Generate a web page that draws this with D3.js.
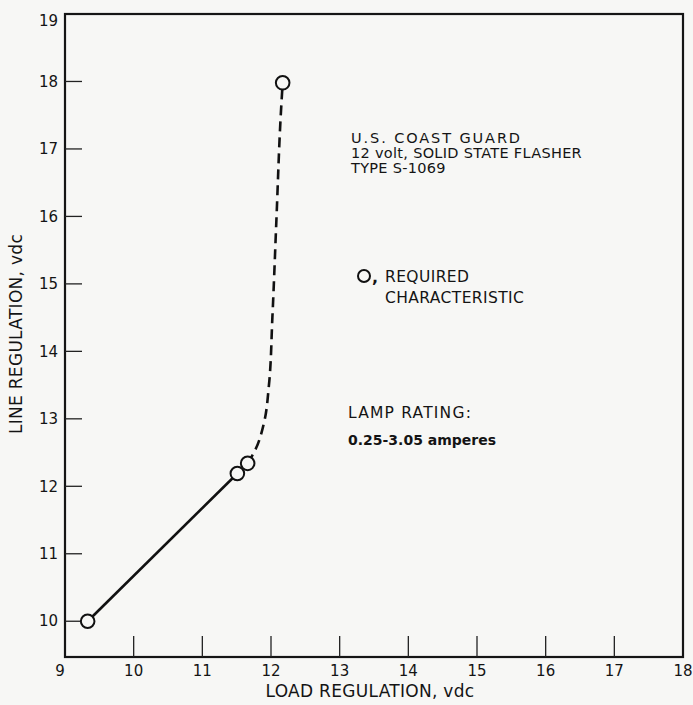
<!DOCTYPE html>
<html>
<head>
<meta charset="utf-8">
<script src="https://cdn.jsdelivr.net/npm/d3@7"></script>
<style>
  body { margin: 0; background: #f7f7f5; }
  svg text { font-family: "DejaVu Sans", sans-serif; fill: #141414; }
</style>
</head>
<body>
<script>
// tick values on both axes
var xTicks = [9, 10, 11, 12, 13, 14, 15, 16, 17, 18];
var yTicks = [10, 11, 12, 13, 14, 15, 16, 17, 18, 19];

// required characteristic points (load, line)
var required = [[9.33, 10.0], [11.51, 12.19], [11.66, 12.34], [12.17, 17.98]];

// solid part of the curve
var solidPart = [[9.33, 10.0], [11.51, 12.19]];

// dashed part of the curve
var dashedPart = [[11.66, 12.34], [11.78, 12.56], [11.9, 12.95], [11.97, 13.5],
                  [12.02, 14.5], [12.08, 15.98], [12.14, 17.46], [12.17, 17.98]];

var titleLines = ["U.S. COAST GUARD", "12 volt, SOLID STATE FLASHER", "TYPE S-1069"];
var legendLines = ["REQUIRED", "CHARACTERISTIC"];
var lampLabel = "LAMP RATING:";
var lampRange = "0.25-3.05 amperes";

var width = 693, height = 705;
var mLeft = 65, mRight = 683, mTop = 14, mBottom = 657;

var x = d3.scaleLinear().domain([9, 18]).range([mLeft, mRight]);
var y = d3.scaleLinear().domain([9.47, 19]).range([mBottom, mTop]);

var svg = d3.select("body").append("svg")
    .attr("width", width)
    .attr("height", height);

// frame
svg.append("rect")
    .attr("x", mLeft).attr("y", mTop)
    .attr("width", mRight - mLeft).attr("height", mBottom - mTop)
    .attr("fill", "none").attr("stroke", "#151515").attr("stroke-width", 2.2);

// inward ticks
svg.append("g").selectAll("line")
    .data(yTicks.filter(function(d) { return d < 19; }))
    .enter().append("line")
      .attr("x1", mLeft).attr("x2", mLeft + 17)
      .attr("y1", function(d) { return y(d); }).attr("y2", function(d) { return y(d); })
      .attr("stroke", "#222").attr("stroke-width", 1.3);

svg.append("g").selectAll("line")
    .data(xTicks.filter(function(d) { return d > 9 && d < 18; }))
    .enter().append("line")
      .attr("x1", function(d) { return x(d); }).attr("x2", function(d) { return x(d); })
      .attr("y1", mBottom).attr("y2", mBottom - 21)
      .attr("stroke", "#222").attr("stroke-width", 1.3);

// tick labels
svg.append("g").selectAll("text")
    .data(yTicks)
    .enter().append("text")
      .attr("x", mLeft - 7)
      .attr("y", function(d) { return d == 19 ? y(d) + 7 : y(d); })
      .attr("dy", "0.35em")
      .attr("text-anchor", "end")
      .attr("font-size", 15)
      .text(function(d) { return d; });

svg.append("g").selectAll("text")
    .data(xTicks)
    .enter().append("text")
      .attr("x", function(d) { return d == 9 ? x(d) - 5 : x(d); })
      .attr("y", 676)
      .attr("text-anchor", "middle")
      .attr("font-size", 15)
      .text(function(d) { return d; });

// axis titles
svg.append("text")
    .attr("x", 370).attr("y", 697)
    .attr("text-anchor", "middle")
    .attr("font-size", 17)
    .attr("letter-spacing", 0.3)
    .text("LOAD REGULATION, vdc");

svg.append("text")
    .attr("transform", "translate(22,334)rotate(-90)")
    .attr("text-anchor", "middle")
    .attr("font-size", 17)
    .attr("letter-spacing", 0.3)
    .text("LINE REGULATION, vdc");

// curve
var line = d3.line()
    .x(function(d) { return x(d[0]); })
    .y(function(d) { return y(d[1]); });

svg.append("path")
    .attr("d", line(solidPart))
    .attr("fill", "none").attr("stroke", "#111").attr("stroke-width", 2.6);

svg.append("path")
    .attr("d", line.curve(d3.curveMonotoneY)(dashedPart))
    .attr("fill", "none").attr("stroke", "#111").attr("stroke-width", 2.6)
    .attr("stroke-dasharray", "10,6");

svg.append("g").selectAll("circle")
    .data(required)
    .enter().append("circle")
      .attr("cx", function(d) { return x(d[0]); })
      .attr("cy", function(d) { return y(d[1]); })
      .attr("r", 6.8)
      .attr("fill", "#f7f7f5").attr("stroke", "#111").attr("stroke-width", 2);

// annotation block
svg.append("g").selectAll("text")
    .data(titleLines)
    .enter().append("text")
      .attr("x", 351)
      .attr("y", function(d, i) { return 143 + i * 15; })
      .attr("font-size", 14.5)
      .attr("letter-spacing", function(d, i) { return i == 0 ? 1.9 : 0.3; })
      .text(function(d) { return d; });

svg.append("g").selectAll("text")
    .data(legendLines)
    .enter().append("text")
      .attr("x", 385)
      .attr("y", function(d, i) { return 282 + i * 21; })
      .attr("font-size", 15.5)
      .attr("letter-spacing", 0.4)
      .text(function(d) { return d; });

// legend symbol "O,"
svg.append("circle")
    .attr("cx", 364).attr("cy", 276).attr("r", 6)
    .attr("fill", "none").attr("stroke", "#111").attr("stroke-width", 2);
svg.append("text")
    .attr("x", 372).attr("y", 283).attr("font-size", 16).attr("font-weight", "bold")
    .text(",");

svg.append("text")
    .attr("x", 348).attr("y", 418)
    .attr("font-size", 15.5)
    .attr("letter-spacing", 1.2)
    .text(lampLabel);

svg.append("text")
    .attr("x", 348).attr("y", 445)
    .attr("font-size", 14)
    .attr("font-weight", "bold")
    .text(lampRange);
</script>
</body>
</html>
